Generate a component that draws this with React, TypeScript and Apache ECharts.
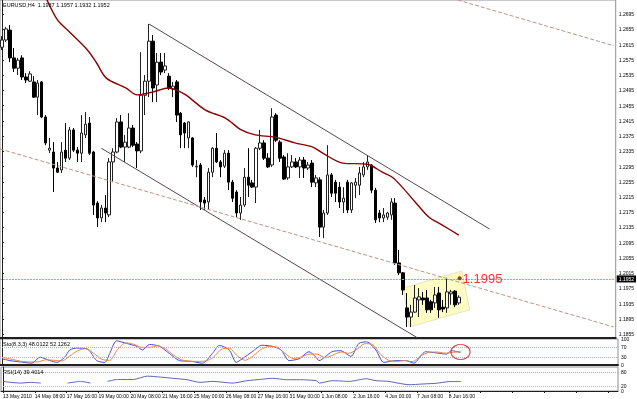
import React, { useEffect, useRef } from 'react';
import * as echarts from 'echarts';

const symbolName = 'EURUSD,H4';
const headerValues = ['1.1937', '1.1957', '1.1932', '1.1952'];
const lastPrice = 1.1952;
const totalSlots = 155;

const tickLabels = ['13 May 2010', '14 May 08:00', '17 May 16:00', '19 May 00:00', '20 May 08:00', '21 May 16:00', '25 May 00:00', '26 May 08:00', '27 May 16:00', '31 May 00:00', '1 Jun 08:00', '2 Jun 16:00', '4 Jun 00:00', '7 Jun 08:00', '8 Jun 16:00'];

const priceTicks = [1.2695, 1.2655, 1.2615, 1.2575, 1.2535, 1.2495, 1.2455, 1.2415, 1.2375, 1.2335, 1.2295, 1.2255, 1.2215, 1.2175, 1.2135, 1.2095, 1.2055, 1.2015, 1.1975, 1.1935, 1.1895, 1.1855];

const opens = [
  1.2608, 1.2627, 1.2653, 1.2580, 1.2553, 1.2580, 1.2530, 1.2519, 1.2517, 1.2477,
  1.2517, 1.2425, 1.2338, 1.2333, 1.2291, 1.2286, 1.2338, 1.2317, 1.2391, 1.2338,
  1.2330, 1.2378, 1.2409, 1.2333, 1.2199, 1.2160, 1.2186, 1.2168, 1.2307, 1.2333,
  1.2412, 1.2346, 1.2346, 1.2396, 1.2354, 1.2336, 1.2482, 1.2519, 1.2624, 1.2509,
  1.2569, 1.2548, 1.2532, 1.2498, 1.2517, 1.2435, 1.2409, 1.2370, 1.2370, 1.2294,
  1.2299, 1.2207, 1.2202, 1.2280, 1.2343, 1.2307, 1.2296, 1.2330, 1.2254, 1.2228,
  1.2173, 1.2194, 1.2267, 1.2252, 1.2241, 1.2343, 1.2357, 1.2317, 1.2299, 1.2430,
  1.2359, 1.2320, 1.2265, 1.2294, 1.2307, 1.2294, 1.2312, 1.2291, 1.2304, 1.2252,
  1.2260, 1.2136, 1.2173, 1.2273, 1.2254, 1.2241, 1.2202, 1.2254, 1.2181, 1.2246,
  1.2246, 1.2273, 1.2294, 1.2299, 1.2233, 1.2173, 1.2160, 1.2162, 1.2168, 1.2199,
  1.2042, 1.2016, 1.1924, 1.1900, 1.1913, 1.1945, 1.1950, 1.1950, 1.1940, 1.1937,
  1.1963, 1.1926, 1.1924, 1.1961, 1.1968, 1.1937
];
const closes = [
  1.2627, 1.2656, 1.2580, 1.2553, 1.2574, 1.2530, 1.2522, 1.2538, 1.2477, 1.2514,
  1.2425, 1.2357, 1.2343, 1.2291, 1.2280, 1.2333, 1.2317, 1.2391, 1.2338, 1.2330,
  1.2383, 1.2406, 1.2330, 1.2194, 1.2160, 1.2186, 1.2173, 1.2307, 1.2333, 1.2412,
  1.2346, 1.2359, 1.2396, 1.2351, 1.2336, 1.2482, 1.2519, 1.2624, 1.2501, 1.2569,
  1.2543, 1.2559, 1.2501, 1.2506, 1.2430, 1.2378, 1.2383, 1.2412, 1.2299, 1.2296,
  1.2202, 1.2199, 1.2280, 1.2343, 1.2307, 1.2294, 1.2330, 1.2254, 1.2212, 1.2173,
  1.2194, 1.2267, 1.2246, 1.2241, 1.2343, 1.2357, 1.2317, 1.2294, 1.2425, 1.2364,
  1.2317, 1.2262, 1.2294, 1.2307, 1.2294, 1.2312, 1.2291, 1.2299, 1.2254, 1.2265,
  1.2136, 1.2173, 1.2273, 1.2225, 1.2225, 1.2202, 1.2212, 1.2181, 1.2252, 1.2254,
  1.2278, 1.2294, 1.2307, 1.2233, 1.2155, 1.2160, 1.2168, 1.2173, 1.2202, 1.2042,
  1.2016, 1.1971, 1.1900, 1.1913, 1.1950, 1.1953, 1.1945, 1.1919, 1.1919, 1.1958,
  1.1919, 1.1921, 1.1966, 1.1966, 1.1932, 1.1952
];
const lows = [
  1.2601, 1.2622, 1.2569, 1.2543, 1.2535, 1.2522, 1.2514, 1.2517, 1.2475, 1.2430,
  1.2422, 1.2351, 1.2330, 1.2228, 1.2278, 1.2278, 1.2307, 1.2312, 1.2333, 1.2307,
  1.2307, 1.2370, 1.2325, 1.2168, 1.2136, 1.2149, 1.2149, 1.2162, 1.2254, 1.2330,
  1.2343, 1.2307, 1.2343, 1.2346, 1.2291, 1.2330, 1.2430, 1.2477, 1.2464, 1.2464,
  1.2535, 1.2540, 1.2496, 1.2477, 1.2412, 1.2343, 1.2343, 1.2343, 1.2294, 1.2267,
  1.2181, 1.2181, 1.2181, 1.2267, 1.2304, 1.2267, 1.2291, 1.2233, 1.2202, 1.2162,
  1.2155, 1.2189, 1.2215, 1.2239, 1.2199, 1.2338, 1.2312, 1.2291, 1.2294, 1.2359,
  1.2307, 1.2260, 1.2260, 1.2291, 1.2291, 1.2265, 1.2265, 1.2286, 1.2241, 1.2241,
  1.2110, 1.2107, 1.2168, 1.2215, 1.2202, 1.2186, 1.2173, 1.2173, 1.2173, 1.2212,
  1.2220, 1.2267, 1.2286, 1.2225, 1.2147, 1.2149, 1.2149, 1.2155, 1.2155, 1.2037,
  1.2010, 1.1958, 1.1874, 1.1874, 1.1911, 1.1900, 1.1932, 1.1911, 1.1911, 1.1924,
  1.1898, 1.1913, 1.1911, 1.1932, 1.1926, 1.1932
];
const highs = [
  1.2637, 1.2661, 1.2666, 1.2606, 1.2580, 1.2587, 1.2540, 1.2545, 1.2532, 1.2522,
  1.2519, 1.2430, 1.2370, 1.2359, 1.2307, 1.2359, 1.2409, 1.2399, 1.2396, 1.2346,
  1.2430, 1.2438, 1.2425, 1.2336, 1.2204, 1.2194, 1.2220, 1.2317, 1.2343, 1.2422,
  1.2430, 1.2378, 1.2435, 1.2404, 1.2359, 1.2595, 1.2535, 1.2669, 1.2640, 1.2593,
  1.2593, 1.2593, 1.2540, 1.2517, 1.2522, 1.2438, 1.2412, 1.2414, 1.2372, 1.2312,
  1.2304, 1.2215, 1.2291, 1.2346, 1.2383, 1.2312, 1.2338, 1.2338, 1.2260, 1.2233,
  1.2215, 1.2291, 1.2343, 1.2260, 1.2346, 1.2391, 1.2364, 1.2330, 1.2448, 1.2435,
  1.2364, 1.2325, 1.2330, 1.2325, 1.2317, 1.2320, 1.2320, 1.2307, 1.2312, 1.2273,
  1.2267, 1.2181, 1.2351, 1.2278, 1.2260, 1.2254, 1.2241, 1.2260, 1.2254, 1.2265,
  1.2294, 1.2307, 1.2325, 1.2301, 1.2239, 1.2181, 1.2186, 1.2176, 1.2212, 1.2212,
  1.2076, 1.2018, 1.1963, 1.1932, 1.1984, 1.1976, 1.1966, 1.1971, 1.1945, 1.1979,
  1.1979, 1.1945, 1.2003, 1.1971, 1.1971, 1.1957
];

// moving average: [bar position, price]
const maPoints = [
  [11.25, 1.2734], [14, 1.2679], [17, 1.2648], [21.5, 1.2601], [23.75, 1.2568], [26.25, 1.2527],
  [31.25, 1.2501], [34, 1.2483], [37.75, 1.2490], [42, 1.2501], [43.75, 1.2496], [46.25, 1.2483],
  [51.25, 1.2443], [56.25, 1.2422], [60.25, 1.2391], [63.75, 1.2378], [68.75, 1.2372], [73.75, 1.2357],
  [78.25, 1.2346], [80.75, 1.2330], [85.75, 1.2304], [92, 1.2301], [95.75, 1.2280], [98.25, 1.2267],
  [100.75, 1.2241], [104, 1.2202], [107.5, 1.2162], [110.75, 1.2142], [115, 1.2115]
];

const stochMain = [
  [0, 24], [2, 17], [4.5, 12], [7.5, 7], [9.5, 30], [12, 17], [13.75, 10], [15.75, 30], [17, 58], [18.75, 65],
  [21.5, 61], [23.75, 17], [25.75, 10], [27, 44], [28.75, 93], [31.25, 83], [33.75, 72], [35.25, 58], [37, 79],
  [39.5, 72], [42, 44], [44.5, 17], [47.5, 14], [50.25, 7], [52.75, 44], [54.5, 75], [57, 58], [58.75, 10],
  [60.25, 24], [62.75, 51], [65.25, 76], [67.75, 72], [70, 58], [72, 17], [74.5, 24], [77, 51], [78.75, 30],
  [79.5, 17], [82.75, 51], [85, 55], [87.5, 33], [89.5, 83], [91.5, 89], [93.75, 58], [95.75, 10], [98.75, 17],
  [101.25, 17], [103.25, 7], [106.25, 51], [108.75, 47], [111.5, 42], [112.75, 55], [115, 48.0122]
];
const stochSignal = [
  [0, 30], [3, 20], [6, 12], [9, 12], [11, 20], [13, 18], [15, 15], [17, 35], [19, 55], [21, 63],
  [23, 45], [25, 22], [27, 18], [29, 60], [31, 85], [33, 80], [35, 68], [37, 68], [39, 74], [41, 62],
  [43, 38], [45, 20], [48, 14], [51, 15], [53, 30], [55, 60], [57, 65], [59, 35], [61, 18], [63, 35],
  [65, 60], [67, 72], [69, 68], [71, 45], [73, 25], [75, 30], [77, 42], [79, 42], [81, 28], [83, 38],
  [85, 50], [87, 45], [89, 60], [91, 82], [93, 78], [95, 40], [97, 18], [99, 14], [101, 17], [103, 13],
  [105, 35], [107, 48], [109, 50], [111, 46], [113, 48], [115, 52.1262]
];
const rsiPoints = [
  [0, 40], [2, 36], [4.5, 33], [7, 36], [9.5, 33], [12, '-'],
  [16.25, 33], [19.5, 40], [22, 33], [24, '-'],
  [26.25, 40], [28.75, 48], [32.75, 48], [36.25, 62], [39.5, 58], [42.75, 53], [46.25, 47], [49.5, 36],
  [52.75, 40], [57.75, 33], [61.25, 43], [64.5, 48], [67.75, 53], [71.25, 47], [74.5, 47], [78.75, 43],
  [79.5, 33], [82.75, 43], [87, 40], [91.25, 51], [93.75, 43], [97, 40], [99.5, 32], [102, 26],
  [105.25, 29], [108.75, 32], [112, 39], [115, 39.4014]
];

const upperTrend = [[37, 1.2669], [122.75, 1.2131]];
const lowerTrend = [[25, 1.2343], [104.5, 1.1846]];
const longDashed = [[-0.5, 1.2341], [154, 1.1874]];
const topDashed = [[114.75, 1.2732], [154, 1.2612]];
const boxCorners = [[101, 1.1976], [115.75, 1.2021], [117.75, 1.1919], [102.5, 1.1874]];
const markerPoint = [115.2, 1.2002];
const markerText = '1.1995';
const circlePoint = [115, 50];

const stochTitle = 'Sto(8,3,3) 48.0122 52.1262';
const rsiTitle = 'RSI(14) 39.4014';

export default function App() {
  const ref = useRef<HTMLDivElement>(null);
  useEffect(() => {
    if (!ref.current) return;
    const chart = echarts.init(ref.current, null, { renderer: 'svg' });
    const categories = Array.from({ length: totalSlots }, (_, k) =>
      k % 8 === 0 && k / 8 < tickLabels.length ? tickLabels[k / 8] : ''
    );
    const candles = opens.map((o, i) => [o, closes[i], lows[i], highs[i]]);
    const font = 'Liberation Sans';
    const axisDark = '#202020';
    const hiddenValueX = (gridIndex: number) => ({
      type: 'value', gridIndex, min: -0.5, max: totalSlots - 0.5, show: false,
    });
    const hiddenCatX = (gridIndex: number) => ({
      type: 'category', gridIndex, data: categories, boundaryGap: true,
      axisLine: { show: true, onZero: false, lineStyle: { color: axisDark, width: 2 } },
      axisTick: { show: false }, axisLabel: { show: false }, splitLine: { show: false },
    });
    const option: any = {
      animation: false,
      textStyle: { fontFamily: font },
      grid: [
        { left: 0, top: 0, width: 618, height: 338, show: true, borderColor: '#909090', borderWidth: 1, backgroundColor: '#ffffff' },
        { left: 0, top: 339, width: 618, height: 26, show: true, borderColor: '#909090', borderWidth: 1, backgroundColor: '#ffffff' },
        { left: 0, top: 367, width: 618, height: 24, show: true, borderColor: '#909090', borderWidth: 1, backgroundColor: '#ffffff' },
      ],
      xAxis: [
        hiddenCatX(0),
        hiddenValueX(0),
        hiddenCatX(1),
        {
          type: 'category', gridIndex: 2, data: categories, boundaryGap: true,
          axisLine: { show: true, onZero: false, lineStyle: { color: axisDark, width: 1 } },
          axisTick: { show: true, interval: 7, alignWithLabel: true, length: 2, lineStyle: { color: axisDark } },
          axisLabel: { show: true, interval: 7, fontSize: 5, color: '#000', align: 'left', margin: 2, hideOverlap: false },
          splitLine: { show: false },
        },
        hiddenValueX(1),
        hiddenValueX(2),
      ],
      yAxis: [
        {
          type: 'value', gridIndex: 0, position: 'right', min: 1.1845, max: 1.2732,
          axisLine: { show: true, lineStyle: { color: axisDark } },
          axisTick: { show: true, length: 2, customValues: priceTicks, lineStyle: { color: axisDark } },
          axisLabel: { show: true, customValues: priceTicks, fontSize: 5, margin: 3, color: '#000', formatter: (v: number) => v.toFixed(4) },
          splitLine: { show: false },
        },
        {
          type: 'value', gridIndex: 1, position: 'right', min: 0, max: 100,
          axisLine: { show: true, lineStyle: { color: axisDark } },
          axisTick: { show: false },
          axisLabel: { show: true, customValues: [0, 30, 70, 100], fontSize: 5, margin: 3, color: '#000' },
          splitLine: { show: false },
        },
        {
          type: 'value', gridIndex: 2, position: 'right', min: 0, max: 100,
          axisLine: { show: true, lineStyle: { color: axisDark } },
          axisTick: { show: false },
          axisLabel: { show: true, customValues: [0, 20, 80, 100], fontSize: 5, margin: 3, color: '#000' },
          splitLine: { show: false },
        },
      ],
      series: [
        {
          type: 'custom', xAxisIndex: 1, yAxisIndex: 0, z: 1, silent: true,
          data: [[110, 1.195]],
          renderItem: (_p: any, api: any) => ({
            type: 'polygon',
            shape: { points: boxCorners.map((c) => api.coord(c)) },
            style: { fill: '#fdfcc2', stroke: '#d8d4a0', lineWidth: 0.6 },
          }),
        },
        {
          type: 'candlestick', xAxisIndex: 0, yAxisIndex: 0, z: 3,
          data: candles, barWidth: 3,
          itemStyle: { color: '#ffffff', color0: '#000000', borderColor: '#202020', borderColor0: '#000000', borderWidth: 1 },
          markLine: {
            silent: true, symbol: 'none',
            lineStyle: { color: '#eba22a', type: [2, 1], width: 1 },
            label: {
              show: true, position: 'end', distance: 1, formatter: lastPrice.toFixed(4),
              color: '#ffffff', backgroundColor: '#000000', fontSize: 5, padding: [1, 2],
            },
            data: [{ yAxis: lastPrice }],
          },
        },
        {
          type: 'line', xAxisIndex: 1, yAxisIndex: 0, z: 4, data: maPoints, showSymbol: false, smooth: 0.3,
          lineStyle: { color: '#8b0000', width: 1.4 },
        },
        { type: 'line', xAxisIndex: 1, yAxisIndex: 0, z: 4, data: upperTrend, showSymbol: false, lineStyle: { color: '#5a4650', width: 1 } },
        { type: 'line', xAxisIndex: 1, yAxisIndex: 0, z: 4, data: lowerTrend, showSymbol: false, lineStyle: { color: '#5a4650', width: 1 } },
        { type: 'line', xAxisIndex: 1, yAxisIndex: 0, z: 4, data: longDashed, showSymbol: false, lineStyle: { color: '#b8958c', width: 1, type: [4, 2] } },
        { type: 'line', xAxisIndex: 1, yAxisIndex: 0, z: 4, data: topDashed, showSymbol: false, lineStyle: { color: '#b8958c', width: 1, type: [4, 2] } },
        {
          type: 'scatter', xAxisIndex: 1, yAxisIndex: 0, z: 5, data: [markerPoint], symbol: 'circle', symbolSize: 4,
          itemStyle: { color: '#8b0000' },
          label: { show: true, position: 'right', distance: 1, formatter: markerText, color: '#ff0000', fontSize: 13 },
        },
        {
          type: 'line', xAxisIndex: 4, yAxisIndex: 1, data: stochMain, showSymbol: false, smooth: 0.25,
          lineStyle: { color: '#3f4fdc', width: 1 },
          markLine: {
            silent: true, symbol: 'none', label: { show: false },
            lineStyle: { color: '#a8b4b8', type: 'dotted', width: 1 },
            data: [{ yAxis: 70 }, { yAxis: 30 }],
          },
        },
        {
          type: 'line', xAxisIndex: 4, yAxisIndex: 1, data: stochSignal, showSymbol: false, smooth: 0.25,
          lineStyle: { color: '#f08048', width: 1 },
        },
        {
          type: 'scatter', xAxisIndex: 4, yAxisIndex: 1, data: [circlePoint], symbol: 'circle', symbolSize: [19, 15],
          itemStyle: { color: 'rgba(0,0,0,0)', borderColor: '#e00000', borderWidth: 1 }, z: 6,
        },
        {
          type: 'line', xAxisIndex: 5, yAxisIndex: 2, data: rsiPoints, showSymbol: false, smooth: 0.2,
          lineStyle: { color: '#5a66b0', width: 1 },
          markLine: {
            silent: true, symbol: 'none', label: { show: false },
            lineStyle: { color: '#a8b4b8', type: 'dotted', width: 1 },
            data: [{ yAxis: 80 }, { yAxis: 20 }],
          },
        },
      ],
      graphic: [
        { type: 'text', left: 3, top: 2, z: 10, style: { text: `${symbolName}  ${headerValues.join(' ')}`, fontSize: 5.5, fill: '#000', fontFamily: font } },
        { type: 'text', left: 3, top: 341, z: 10, style: { text: stochTitle, fontSize: 5.5, fill: '#000', fontFamily: font } },
        { type: 'text', left: 3, top: 369, z: 10, style: { text: rsiTitle, fontSize: 5.5, fill: '#000', fontFamily: font } },
      ],
    };
    chart.setOption(option);
    return () => chart.dispose();
  }, []);
  return <div ref={ref} style={{ position: 'fixed', left: 0, top: 0, width: 637, height: 399 }} />;
}
